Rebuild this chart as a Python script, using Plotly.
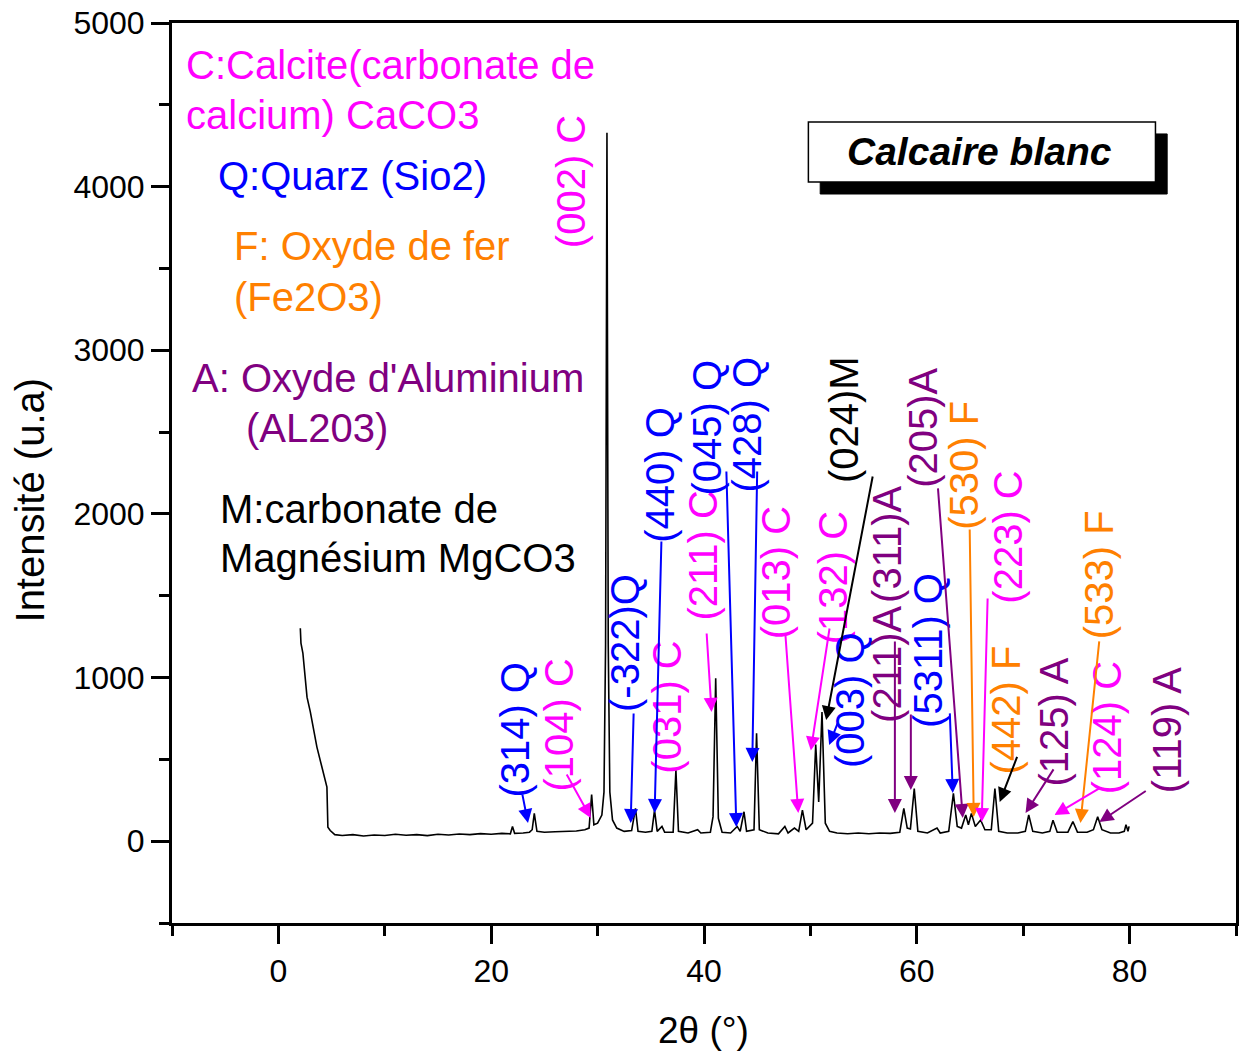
import plotly.graph_objects as go

FONT = "Liberation Sans, Arial, sans-serif"

MAGENTA = "#FF00FF"
BLUE = "#0000FF"
ORANGE = "#FF8000"
PURPLE = "#800080"
BLACK = "#000000"

# Diffraction scan of the white limestone: 2θ (°) and intensity (u.a)
two_theta = [
    2.06, 2.12, 2.3, 2.53, 2.69, 3.0, 3.27, 3.62, 4.1, 4.56, 4.65, 4.87, 5.3,
    6, 7, 8, 9, 10, 11, 12, 13, 14, 15, 16, 17, 18, 19, 20, 21,
    21.8, 22.0, 22.2, 23, 23.6, 23.85, 24.05, 24.3, 25, 26, 27, 28, 28.8,
    29.2, 29.44, 29.65, 30.0, 30.4, 30.6, 30.75, 30.88, 31.0, 31.15, 31.4, 31.8,
    32.5, 33.2, 33.56, 33.8, 34.5, 35.1, 35.35, 35.6, 36.05, 36.3, 37.1, 37.36,
    37.6, 38.5, 39.4, 39.7, 40.6, 40.85, 41.1, 41.35, 41.7, 42.5, 43.12, 43.4,
    43.76, 44.0, 44.7, 44.94, 45.2, 46, 47, 47.6, 47.9, 48.5, 48.9, 49.25, 49.6,
    50.2, 50.5, 50.78, 51.09, 51.4, 51.8, 52.5, 53.5, 54.5, 55.5, 56.5, 57.5,
    58.4, 58.78, 59.1, 59.4, 59.76, 60.1, 61, 61.9, 62.2, 63.0, 63.44, 63.8,
    64.2, 64.6, 64.85, 65.13, 65.5, 66.0, 66.4, 67.0, 67.34, 67.7, 68.5, 69.5,
    70.2, 70.52, 70.9, 71.8, 72.5, 72.8, 73.2, 74.2, 74.67, 75.1, 76.0, 76.6,
    77.0, 77.4, 78.2, 79.0, 79.5, 79.66, 79.85, 79.95,
]
intensity = [
    1301, 1210, 1150, 1000, 880, 790, 700, 575, 450, 330, 85, 65, 40,
    35, 40, 32, 38, 35, 42, 36, 40, 34, 42, 38, 44, 40, 46, 42, 48,
    45, 90, 48, 50, 55, 70, 170, 60, 55, 58, 60, 62, 70,
    80, 285, 100, 110, 160, 300, 1200, 4330, 1200, 300, 130, 80,
    60, 65, 200, 60, 55, 60, 190, 60, 90, 55, 55, 435,
    60, 50, 70, 50, 55, 150, 995, 140, 55, 50, 90, 60,
    180, 60, 70, 660, 70, 50, 45, 90, 50, 80, 60, 190, 70,
    110, 590, 240, 790, 110, 60, 50, 45, 50, 45, 50, 48,
    55, 200, 80, 75, 322, 60, 50, 80, 50, 60, 292, 90,
    80, 160, 100, 170, 90, 130, 70, 70, 322, 60, 50, 50,
    60, 160, 60, 50, 60, 128, 55, 55, 120, 55, 55, 70,
    150, 70, 50, 50, 60, 100, 60, 90,
]

# Phase key (text, colour, left edge 2θ, centre intensity)
key_lines = [
    ("C:Calcite(carbonate de", MAGENTA, -8.88, 4743),
    ("calcium) CaCO3", MAGENTA, -8.88, 4438),
    ("Q:Quarz (Sio2)", BLUE, -5.86, 4064),
    ("F: Oxyde de fer", ORANGE, -4.36, 3637),
    ("(Fe2O3)", ORANGE, -4.36, 3325),
    ("A: Oxyde d'Aluminium", PURPLE, -8.29, 2831),
    ("(AL203)", PURPLE, -3.23, 2525),
    ("M:carbonate de", BLACK, -5.67, 2030),
    ("Magnésium MgCO3", BLACK, -5.67, 1730),
]

# Reflection labels (text, colour, centre 2θ, centre intensity)
peak_labels = [
    ("(002) C", MAGENTA, 27.49, 4033),
    ("(314) Q", BLUE, 22.21, 680),
    ("(104) C", MAGENTA, 26.36, 712),
    ("(-322)Q", BLUE, 32.57, 1211),
    ("(031) C", MAGENTA, 36.49, 820),
    ("(440) Q", BLUE, 35.92, 2237),
    ("(211) C", MAGENTA, 39.86, 1743),
    ("(045) Q", BLUE, 40.24, 2525),
    ("(428) Q", BLUE, 44.0, 2544),
    ("(013) C", MAGENTA, 46.80, 1639),
    ("(132) C", MAGENTA, 52.14, 1608),
    ("(024)M", BLACK, 53.17, 2574),
    ("(003) Q", BLUE, 53.74, 864),
    ("(311)A", PURPLE, 57.13, 1812),
    ("(211)A", PURPLE, 57.13, 1079),
    ("(5311) Q", BLUE, 61.04, 1168),
    ("(205)A", PURPLE, 60.57, 2525),
    ("(530) F", ORANGE, 64.41, 2299),
    ("(223) C", MAGENTA, 68.54, 1859),
    ("(442) F", ORANGE, 68.35, 802),
    ("(125) A", PURPLE, 72.94, 728),
    ("(533) F", ORANGE, 77.16, 1627),
    ("(124) C", MAGENTA, 77.91, 692),
    ("(119) A", PURPLE, 83.54, 680),
]

# Pointer arrows (colour, tail 2θ, tail intensity, head 2θ, head intensity)
pointers = [
    (BLUE, 22.90, 295, 23.46, 111),
    (MAGENTA, 27.02, 417, 29.36, 142),
    (BLUE, 33.39, 790, 33.11, 111),
    (BLUE, 36.00, 1841, 35.36, 172),
    (MAGENTA, 40.24, 1278, 40.71, 790),
    (BLUE, 42.10, 2268, 43.04, 87),
    (BLUE, 45.00, 2268, 44.54, 484),
    (MAGENTA, 47.64, 1272, 48.86, 172),
    (MAGENTA, 51.82, 1309, 50.04, 554),
    (BLACK, 55.88, 2238, 51.48, 740),
    (BLUE, 52.60, 728, 51.76, 588),
    (PURPLE, 57.94, 1230, 57.94, 172),
    (PURPLE, 59.44, 783, 59.44, 313),
    (BLUE, 63.10, 790, 63.38, 295),
    (PURPLE, 61.98, 2165, 64.32, 142),
    (ORANGE, 64.97, 1914, 65.35, 148),
    (MAGENTA, 66.66, 1492, 66.10, 117),
    (BLACK, 69.48, 524, 67.79, 240),
    (PURPLE, 72.94, 448, 70.22, 172),
    (ORANGE, 77.16, 1230, 75.38, 111),
    (MAGENTA, 77.25, 326, 72.94, 160),
    (PURPLE, 81.66, 313, 77.16, 117),
]

fig = go.Figure()
fig.add_trace(go.Scatter(
    x=two_theta, y=intensity, mode="lines",
    line=dict(color="black", width=1.6),
    showlegend=False, hoverinfo="skip",
))

annotations = []
for text, color, x, y in key_lines:
    annotations.append(dict(
        x=x, y=y, xref="x", yref="y", text=text, showarrow=False,
        xanchor="left", yanchor="middle",
        font=dict(family=FONT, size=40, color=color),
    ))

for text, color, x, y in peak_labels:
    annotations.append(dict(
        x=x, y=y, xref="x", yref="y", text=text, showarrow=False,
        textangle=-90, xanchor="center", yanchor="middle",
        font=dict(family=FONT, size=40, color=color),
    ))

for color, tx, ty, hx, hy in pointers:
    annotations.append(dict(
        x=hx, y=hy, xref="x", yref="y", ax=tx, ay=ty, axref="x", ayref="y",
        text="", showarrow=True, arrowhead=2, arrowsize=1.4, arrowwidth=2,
        arrowcolor=color, standoff=0, startstandoff=0,
    ))

# Sample name in a shadowed box
annotations.append(dict(
    x=65.9, y=4212, xref="x", yref="y", text="<b><i>Calcaire blanc</i></b>",
    showarrow=False, xanchor="center", yanchor="middle",
    font=dict(family=FONT, size=39, color="black"),
))

# Axis titles
annotations.append(dict(
    x=-0.133, y=0.47, xref="paper", yref="paper", text="Intensité (u.a)",
    showarrow=False, textangle=-90, xanchor="center", yanchor="middle",
    font=dict(family=FONT, size=40, color="black"),
))
annotations.append(dict(
    x=0.4995, y=-0.119, xref="paper", yref="paper", text="2θ (°)",
    showarrow=False, xanchor="center", yanchor="middle",
    font=dict(family=FONT, size=37, color="black"),
))

shapes = [
    dict(type="rect", xref="x", yref="y", x0=50.92, x1=83.53, y0=3955, y1=4322,
         fillcolor="black", line=dict(color="black", width=1), layer="above"),
    dict(type="rect", xref="x", yref="y", x0=49.81, x1=82.43, y0=4028, y1=4395,
         fillcolor="white", line=dict(color="black", width=1.5), layer="above"),
]

fig.update_layout(
    width=1242, height=1057,
    margin=dict(l=172, r=3, t=23, b=134),
    paper_bgcolor="white", plot_bgcolor="white",
    font=dict(family=FONT, color="black"),
    annotations=annotations,
    shapes=shapes,
    showlegend=False,
)

fig.update_xaxes(
    range=[-10, 90], tickvals=[0, 20, 40, 60, 80],
    ticks="outside", ticklen=18, tickwidth=3, tickcolor="black",
    minor=dict(tickvals=[-10, 10, 30, 50, 70, 90], ticks="outside",
               ticklen=10, tickwidth=3, tickcolor="black"),
    showline=True, linecolor="black", linewidth=3, mirror=True,
    showgrid=False, zeroline=False,
    tickfont=dict(family=FONT, size=32, color="black"),
)
fig.update_yaxes(
    range=[-500, 5000], tickvals=[0, 1000, 2000, 3000, 4000, 5000],
    ticks="outside", ticklen=18, tickwidth=3, tickcolor="black",
    minor=dict(tickvals=[-500, 500, 1500, 2500, 3500, 4500], ticks="outside",
               ticklen=10, tickwidth=3, tickcolor="black"),
    showline=True, linecolor="black", linewidth=3, mirror=True,
    showgrid=False, zeroline=False,
    tickfont=dict(family=FONT, size=32, color="black"),
)

fig.write_html("out.html")
